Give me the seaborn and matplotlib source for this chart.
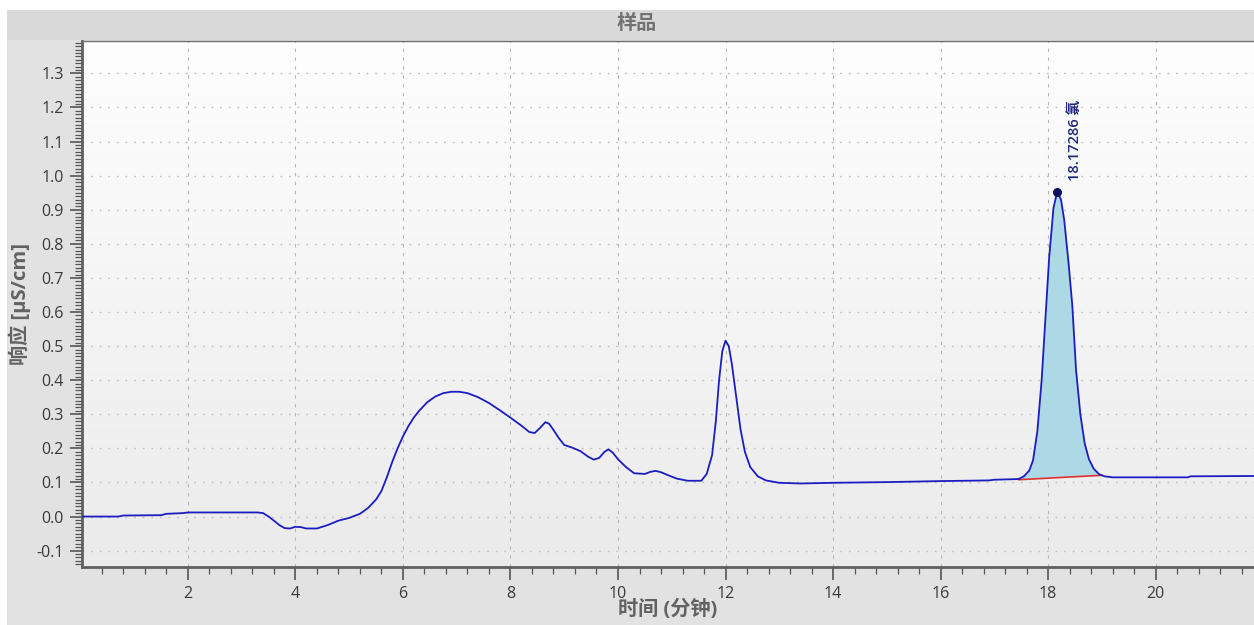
import numpy as np
import pandas as pd
import matplotlib
matplotlib.use('Agg')
import matplotlib.pyplot as plt
from matplotlib.patches import Rectangle
from matplotlib.ticker import MultipleLocator, FormatStrFormatter
import seaborn as sns

# Dữ liệu sắc ký đồ
time_min = [0.0, 0.7, 0.8, 1.5, 1.6, 1.9, 2.0, 3.3, 3.4, 3.5, 3.6, 3.7, 3.8, 3.9, 4.0, 4.1,
            4.2, 4.4, 4.6, 4.8, 5.0, 5.2, 5.35, 5.5, 5.6, 5.7, 5.8, 5.9, 6.0, 6.1, 6.2, 6.3,
            6.45, 6.6, 6.75, 6.9, 7.05, 7.2, 7.4, 7.6, 7.8, 8.0, 8.2, 8.35, 8.45, 8.55, 8.65,
            8.72, 8.8, 8.9, 9.0, 9.15, 9.3, 9.45, 9.55, 9.65, 9.75, 9.82, 9.9, 10.0, 10.15,
            10.3, 10.5, 10.6, 10.7, 10.8, 10.95, 11.1, 11.3, 11.55, 11.65, 11.75, 11.82, 11.88,
            11.94, 12.0, 12.06, 12.12, 12.2, 12.28, 12.36, 12.46, 12.6, 12.75, 13.0, 13.4,
            14.0, 15.0, 16.0, 16.9, 17.0, 17.45, 17.55, 17.65, 17.72, 17.8, 17.88, 17.95,
            18.02, 18.1, 18.17, 18.24, 18.3, 18.38, 18.45, 18.52, 18.6, 18.68, 18.76, 18.85,
            18.95, 19.0, 19.05, 19.2, 20.6, 20.65, 21.9]
response = [0.000, 0.000, 0.003, 0.004, 0.008, 0.010, 0.012, 0.012, 0.010, 0.000, -0.012,
            -0.025, -0.034, -0.035, -0.030, -0.031, -0.035, -0.035, -0.025, -0.012, -0.004,
            0.008, 0.025, 0.050, 0.075, 0.115, 0.160, 0.200, 0.235, 0.265, 0.290, 0.310,
            0.335, 0.352, 0.362, 0.366, 0.366, 0.362, 0.350, 0.333, 0.312, 0.290, 0.267,
            0.248, 0.245, 0.260, 0.277, 0.272, 0.254, 0.230, 0.210, 0.202, 0.192, 0.175,
            0.167, 0.172, 0.190, 0.197, 0.188, 0.168, 0.145, 0.127, 0.125, 0.131, 0.134,
            0.130, 0.120, 0.111, 0.105, 0.105, 0.125, 0.180, 0.280, 0.400, 0.485, 0.516,
            0.500, 0.445, 0.350, 0.255, 0.190, 0.145, 0.118, 0.106, 0.099, 0.097, 0.099,
            0.101, 0.104, 0.106, 0.108, 0.110, 0.118, 0.135, 0.165, 0.250, 0.400, 0.580,
            0.760, 0.905, 0.953, 0.930, 0.870, 0.745, 0.620, 0.430, 0.300, 0.215, 0.168,
            0.140, 0.124, 0.121, 0.118, 0.115, 0.115, 0.118, 0.119]

# Đường nền tích phân của pic clorua
baseline_time = [17.45, 19.0]
baseline_resp = [0.108, 0.121]
peak_time = 18.17286
peak_height = 0.953
peak_label = '18.17286 氯'

df = pd.DataFrame({'time': time_min, 'resp': response})

sns.set_theme(style='white')
plt.rcParams['font.family'] = ['Open Sans', 'Noto Sans CJK SC', 'DejaVu Sans']
plt.rcParams['axes.unicode_minus'] = False

fig = plt.figure(figsize=(12.54, 6.25), dpi=100)
fig.patch.set_facecolor('white')
fig.patches.append(Rectangle((7 / 1254, 0), 1, 1 - 10 / 625, transform=fig.transFigure,
                             facecolor='#e2e2e2', edgecolor='none', zorder=-10))
fig.patches.append(Rectangle((7 / 1254, 1 - 40 / 625), 1, 30 / 625, transform=fig.transFigure,
                             facecolor='#dadada', edgecolor='none', zorder=-9))

ax = fig.add_axes([82 / 1254, 1 - 567 / 625, 1 - 82 / 1254, (567 - 41) / 625])
x0, x1 = 0.03, 21.83
y0, y1 = -0.148, 1.395

# nền gradient trong vùng vẽ
grad = np.linspace(0, 1, 256).reshape(-1, 1)
ax.imshow(grad, extent=[x0, x1, y0, y1], aspect='auto', origin='upper',
          cmap=matplotlib.colors.LinearSegmentedColormap.from_list('g', ['#fefefe', '#ebebeb']),
          zorder=0)

# tô diện tích pic
mask = (df['time'] >= baseline_time[0]) & (df['time'] <= baseline_time[1])
px = list(df.loc[mask, 'time']) + baseline_time[::-1]
py = list(df.loc[mask, 'resp']) + baseline_resp[::-1]
ax.fill(px, py, color='#add8e6', zorder=2, linewidth=0)
ax.plot(baseline_time, baseline_resp, color='#e03030', lw=1.2, zorder=3)

sns.lineplot(data=df, x='time', y='resp', sort=False, estimator=None,
             color='#1c1cc0', lw=1.3, ax=ax, zorder=4)
ax.scatter([peak_time], [peak_height], s=30, color='#101060', zorder=5)
ax.annotate(peak_label, (peak_time, peak_height), textcoords='offset points',
            xytext=(13, 8), rotation=90, ha='center', va='bottom',
            fontsize=10.5, fontweight='semibold', color='#1f2878')

ax.set_xlim(x0, x1)
ax.set_ylim(y0, y1)
ax.xaxis.set_major_locator(MultipleLocator(2))
ax.xaxis.set_minor_locator(MultipleLocator(0.4))
ax.yaxis.set_major_locator(MultipleLocator(0.1))
ax.yaxis.set_minor_locator(MultipleLocator(0.01))
ax.yaxis.set_major_formatter(FormatStrFormatter('%.1f'))
ax.set_xticks([2, 4, 6, 8, 10, 12, 14, 16, 18, 20])
ax.set_yticks(np.round(np.arange(-0.1, 1.31, 0.1), 1))

ax.tick_params(which='major', direction='out', length=9, width=1.2, color='#555555',
               labelsize=11.5, labelcolor='#3a3a3a', bottom=True, left=True)
ax.tick_params(which='minor', direction='out', length=5, width=0.9, color='#555555',
               bottom=True, left=True)
ax.tick_params(axis='x', which='major', pad=5)
ax.tick_params(axis='y', which='major', pad=4)

ax.grid(axis='x', which='major', color='#b5b5b5', linestyle=(0, (3, 5)), lw=0.8)
ax.grid(axis='y', which='major', color='#bdbdbd', linestyle=(0, (1.2, 5)), lw=1.0)
ax.set_axisbelow(True)

for side in ['left', 'bottom']:
    ax.spines[side].set_color('#606060')
    ax.spines[side].set_linewidth(2)
ax.spines['top'].set_color('#707070')
ax.spines['top'].set_linewidth(1)
ax.spines['right'].set_visible(False)

ax.set_xlabel('时间 (分钟)', fontsize=14.5, color='#626262', fontweight='bold', labelpad=-2)
ax.set_ylabel('响应 [µS/cm]', fontsize=14.5, color='#626262', fontweight='bold', labelpad=4)
fig.text(637 / 1254, 1 - 24 / 625, '样品', ha='center', va='center', fontsize=14.5,
         fontweight='bold', color='#727272')

fig.savefig('out.png', dpi=100, facecolor=fig.get_facecolor())
